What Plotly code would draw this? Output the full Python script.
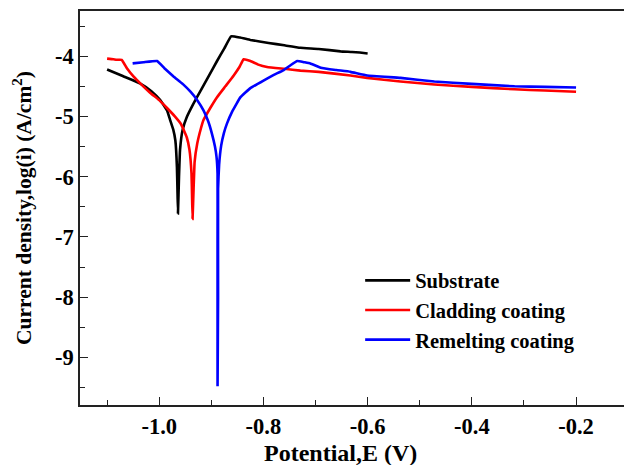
import plotly.graph_objects as go

# ---- data ----
substrate_E = [-1.100, -1.070, -1.037, -1.015, -0.998, -0.985, -0.979, -0.973, -0.969,
               -0.966, -0.965, -0.964, -0.962, -0.960, -0.955, -0.947, -0.935, -0.921,
               -0.905, -0.889, -0.875, -0.862, -0.845, -0.825, -0.790, -0.760, -0.729,
               -0.694, -0.652, -0.630, -0.615, -0.600]
substrate_logi = [-4.22, -4.33, -4.45, -4.58, -4.73, -4.90, -5.06, -5.22, -5.40,
                  -5.84, -6.20, -6.61, -6.00, -5.55, -5.22, -5.01, -4.80, -4.58,
                  -4.33, -4.08, -3.87, -3.67, -3.69, -3.73, -3.78, -3.82, -3.86,
                  -3.88, -3.92, -3.93, -3.94, -3.955]

cladding_E = [-1.100, -1.088, -1.082, -1.072, -1.062, -1.049, -1.033, -1.017, -1.000,
              -0.985, -0.970, -0.958, -0.947, -0.942, -0.938, -0.937, -0.936, -0.934,
              -0.932, -0.927, -0.920, -0.915, -0.902, -0.889, -0.873, -0.857, -0.846,
              -0.838, -0.825, -0.810, -0.793, -0.760, -0.729, -0.694, -0.633, -0.601,
              -0.537, -0.472, -0.400, -0.318, -0.260, -0.200]
cladding_logi = [-4.04, -4.05, -4.06, -4.06, -4.20, -4.34, -4.48, -4.61, -4.73,
                 -4.86, -5.00, -5.13, -5.35, -5.55, -5.95, -6.30, -6.70, -6.20,
                 -5.75, -5.45, -5.20, -5.06, -4.86, -4.68, -4.50, -4.32, -4.18,
                 -4.05, -4.08, -4.14, -4.18, -4.21, -4.24, -4.26, -4.32, -4.36,
                 -4.42, -4.47, -4.51, -4.55, -4.57, -4.59]

remelting_E = [-1.051, -1.030, -1.004, -0.990, -0.972, -0.955, -0.940, -0.927, -0.915,
               -0.906, -0.899, -0.893, -0.890, -0.888, -0.888, -0.888, -0.888, -0.887,
               -0.887, -0.885, -0.881, -0.876, -0.870, -0.860, -0.844, -0.825, -0.799,
               -0.780, -0.761, -0.748, -0.735, -0.722, -0.710, -0.690, -0.660, -0.633,
               -0.601, -0.537, -0.472, -0.400, -0.318, -0.260, -0.200]
remelting_logi = [-4.12, -4.10, -4.08, -4.20, -4.34, -4.46, -4.59, -4.73, -4.90,
                  -5.08, -5.28, -5.50, -5.67, -5.95, -7.00, -8.50, -9.48, -8.00,
                  -6.20, -5.80, -5.48, -5.28, -5.12, -4.92, -4.68, -4.53, -4.40,
                  -4.31, -4.23, -4.15, -4.08, -4.10, -4.12, -4.19, -4.23, -4.26,
                  -4.32, -4.36, -4.42, -4.46, -4.50, -4.51, -4.52]

series_names = ["Substrate", "Cladding coating", "Remelting coating"]
series_colors = ["#000000", "#ff0000", "#0000ff"]

x_tickvals = [-1.0, -0.8, -0.6, -0.4, -0.2]
x_ticktext = ["-1.0", "-0.8", "-0.6", "-0.4", "-0.2"]
x_minorvals = [-1.1, -0.9, -0.7, -0.5, -0.3]
y_tickvals = [-4, -5, -6, -7, -8, -9]
y_ticktext = ["-4", "-5", "-6", "-7", "-8", "-9"]
y_minorvals = [-3.5, -4.5, -5.5, -6.5, -7.5, -8.5, -9.5]

x_title = "Potential,E (V)"
y_title = "Current density,log(i) (A/cm<sup>2</sup>)"

FONT = "Liberation Serif, Times New Roman, serif"

fig = go.Figure()
for xs, ys, name, col in zip([substrate_E, cladding_E, remelting_E],
                             [substrate_logi, cladding_logi, remelting_logi],
                             series_names, series_colors):
    fig.add_trace(go.Scatter(x=xs, y=ys, mode="lines", name=name,
                             line=dict(color=col, width=2.6, shape="spline", smoothing=0.3)))

axis_common = dict(showgrid=False, zeroline=False, showline=True, linecolor="#222",
                   linewidth=1.5, ticks="inside", ticklen=8, tickwidth=1.3, tickcolor="#222",
                   tickfont=dict(family=FONT, size=22.5, color="black", weight="bold"))

fig.update_xaxes(range=[-1.152, -0.108], tickmode="array", tickvals=x_tickvals,
                 ticktext=x_ticktext, mirror=True,
                 minor=dict(tickmode="array", tickvals=x_minorvals, ticks="inside",
                            ticklen=5, tickwidth=1.3, tickcolor="#222"),
                 **axis_common)
fig.update_yaxes(range=[-9.79, -3.25], tickmode="array", tickvals=y_tickvals,
                 ticktext=y_ticktext,
                 minor=dict(tickmode="array", tickvals=y_minorvals, ticks="inside",
                            ticklen=5, tickwidth=1.3, tickcolor="#222"),
                 title=dict(text=y_title, standoff=17,
                            font=dict(family=FONT, size=21.5, color="black", weight="bold")),
                 **axis_common)

fig.add_annotation(text=x_title, xref="paper", yref="paper", x=0.479, y=-0.122,
                   xanchor="center", yanchor="middle", showarrow=False,
                   font=dict(family=FONT, size=24, color="black", weight="bold"))

fig.update_layout(
    width=624, height=465,
    margin=dict(l=80, r=0, t=11, b=60),
    paper_bgcolor="white", plot_bgcolor="white",
    showlegend=True,
    legend=dict(x=0.515, y=0.241, xanchor="left", yanchor="middle",
                bgcolor="rgba(0,0,0,0)", itemwidth=45, tracegroupgap=0,
                font=dict(family=FONT, size=20.5, color="black", weight="bold")),
)

fig.write_html("out.html")
